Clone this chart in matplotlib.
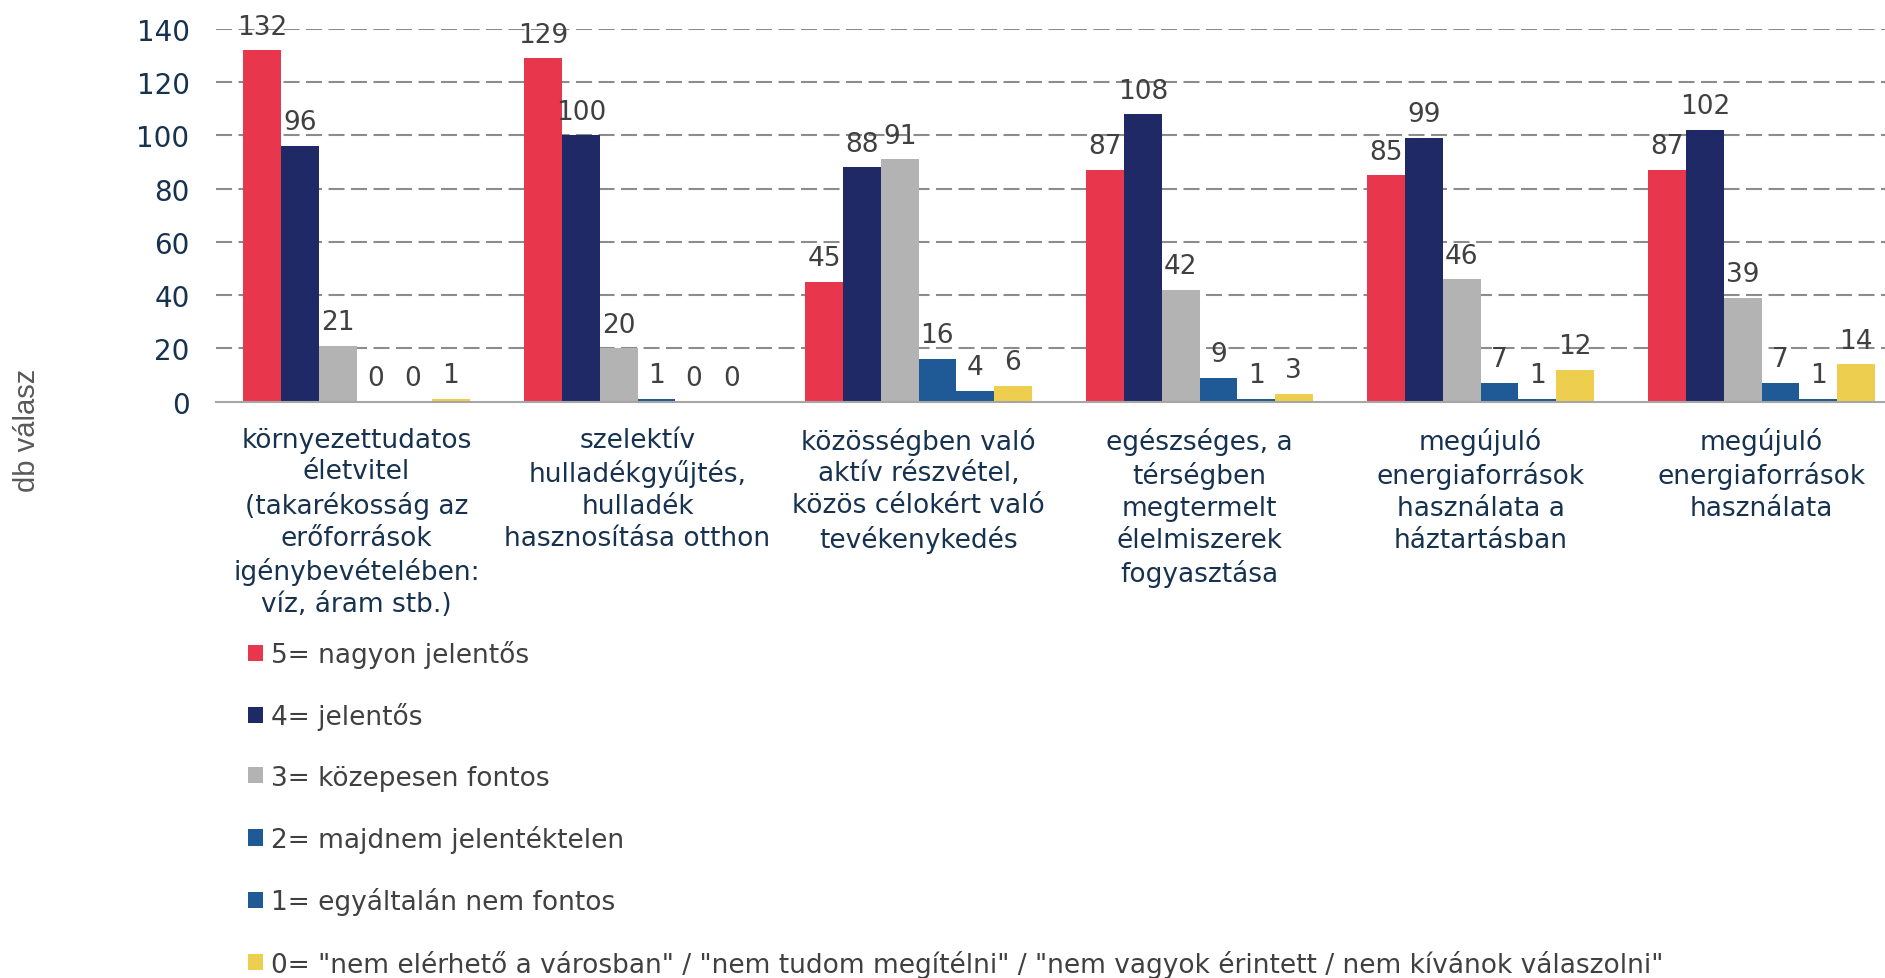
import matplotlib

matplotlib.use("Agg")
import matplotlib.pyplot as plt
import numpy as np
from matplotlib.patches import Patch

categories = [
    "környezettudatos\néletvitel\n(takarékosság az\nerőforrások\nigénybevételében:\nvíz, áram stb.)",
    "szelektív\nhulladékgyűjtés,\nhulladék\nhasznosítása otthon",
    "közösségben való\naktív részvétel,\nközös célokért való\ntevékenykedés",
    "egészséges, a\ntérségben\nmegtermelt\nélelmiszerek\nfogyasztása",
    "megújuló\nenergiaforrások\nhasználata a\nháztartásban",
    "megújuló\nenergiaforrások\nhasználata",
]

series_names = [
    "5= nagyon jelentős",
    "4= jelentős",
    "3= közepesen fontos",
    "2= majdnem jelentéktelen",
    "1= egyáltalán nem fontos",
    '0= "nem elérhető a városban" / "nem tudom megítélni" / "nem vagyok érintett / nem kívánok válaszolni"',
]

vals_5 = [132, 129, 45, 87, 85, 87]
vals_4 = [96, 100, 88, 108, 99, 102]
vals_3 = [21, 20, 91, 42, 46, 39]
vals_2 = [0, 1, 16, 9, 7, 7]
vals_1 = [0, 0, 4, 1, 1, 1]
vals_0 = [1, 0, 6, 3, 12, 14]

series_values = [vals_5, vals_4, vals_3, vals_2, vals_1, vals_0]
colors = ["#E8374D", "#1F2966", "#B3B3B3", "#1F5A96", "#1F5A96", "#EDCE4F"]

yticks = [0, 20, 40, 60, 80, 100, 120, 140]

W, H = 1885, 979
fig = plt.figure(figsize=(W / 100, H / 100), dpi=100)
ax = fig.add_axes([216 / W, 1 - 402.7 / H, 1686 / W, 372.7 / H])

x = np.arange(len(categories))
bar_w = 37.7 / 281
for i, (vals, col) in enumerate(zip(series_values, colors)):
    xs = x + (i - 2.5) * bar_w
    ax.bar(xs, vals, width=bar_w, color=col, linewidth=0, zorder=2)
    for xi, v in zip(xs, vals):
        ax.annotate(str(v), (xi, v), xytext=(0, 12), textcoords="offset points",
                    ha="center", va="baseline", fontsize=19, color="#404040",
                    annotation_clip=False, clip_on=False)

ax.set_xlim(-0.5, len(categories) - 0.5)
ax.set_ylim(0, 140)
ax.set_yticks(yticks)
ax.set_xticks(x)
ax.set_xticklabels(categories, fontsize=19, color="#17324F", linespacing=1.29)
ax.tick_params(axis="x", length=0, pad=18)
ax.tick_params(axis="y", length=0, pad=19, labelsize=20, labelcolor="#17324F")

ax.set_axisbelow(True)
ax.yaxis.grid(True, color="#8C8C8C", linewidth=1.5, linestyle=(0, (7.7, 3.1)))
for side in ["top", "right", "left"]:
    ax.spines[side].set_visible(False)
ax.spines["bottom"].set_color("#A6A6A6")
ax.spines["bottom"].set_linewidth(1.5)
ax.spines["bottom"].set_zorder(3)
# hide the dashed line at 0, the spine takes its place
ax.get_ygridlines()[0].set_visible(False)

fig.text(27 / W, 1 - 430 / H, "db válasz", rotation=90, ha="center", va="center",
         fontsize=21, color="#595959", family="Liberation Sans")

handles = [Patch(facecolor=c, edgecolor="none") for c in colors]
fig.legend(handles, series_names, loc="upper left", bbox_to_anchor=(248 / W, 1 - 641 / H),
           frameon=False, fontsize=19, labelcolor="#404040", handlelength=0.57,
           handleheight=0.57, handletextpad=0.3, labelspacing=1.3, borderpad=0,
           borderaxespad=0)

fig.savefig("out.png", dpi=100)
